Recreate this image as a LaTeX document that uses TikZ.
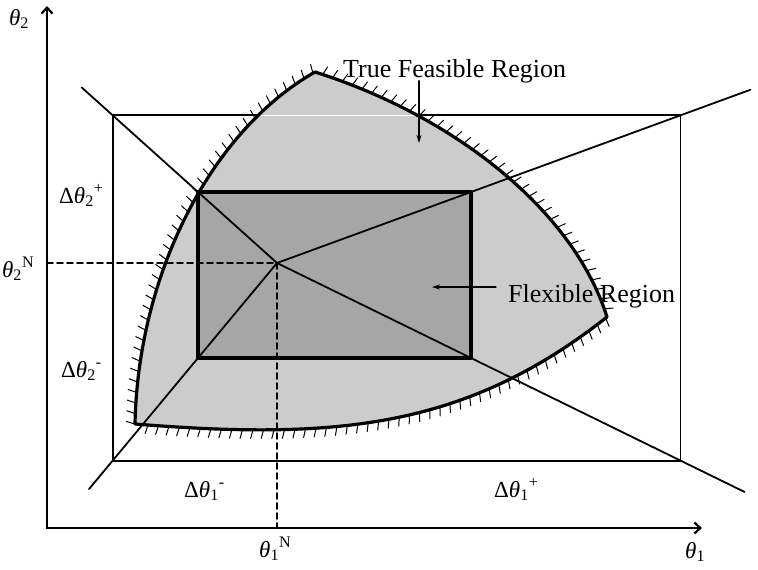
\documentclass[tikz,border=0pt]{standalone}
\usepackage{fontspec}
\setmainfont{Liberation Serif}
\usetikzlibrary{arrows.meta,calc,decorations.pathreplacing}

\newcommand{\thv}{{\itshape θ}}
\newcommand{\lblsize}{\fontsize{23}{27}\selectfont}
\newcommand{\regsize}{\fontsize{26}{30}\selectfont}
\newcommand{\feas}{(135,424) .. controls (138,274) and (211,131) .. (315,72)
  .. controls (457,117) and (574,212) .. (607,317)
  .. controls (465,429) and (335,440) .. cycle}

\tikzset{
  thinline/.style={line width=1.8pt},
  bnd/.style={line width=3.2pt},
  hatch/.style={draw,fill=none,decorate,line width=1pt,
    decoration={border,segment length=10.5pt,amplitude=9pt,angle=75}},
  axis/.style={line width=2.2pt,-{Straight Barb[length=6pt,width=11pt,line width=2.2pt]}},
  pointer/.style={line width=1.3pt,-{Stealth[length=8pt,width=5pt]}},
  nomline/.style={line width=1.7pt,dash pattern=on 6pt off 4pt},
  lbl/.style={font=\lblsize,inner sep=0pt,anchor=base west},
  reg/.style={font=\regsize,inner sep=0pt,anchor=base west},
}

\begin{document}
\begin{tikzpicture}[x=1pt,y=-1pt,line cap=round,line join=round]
    \useasboundingbox (0,0) rectangle (758,570);

    \coordinate (O) at (47,528);
    \coordinate (N) at (277,263);
    \coordinate (a) at (198,192);
    \coordinate (b) at (471,192);
    \coordinate (c) at (471,358);
    \coordinate (d) at (198,358);
    % box scaled about the nominal point
    \coordinate (A) at ($(N)!2.08!(a)$);
    \coordinate (B) at ($(N)!2.08!(b)$);
    \coordinate (C) at ($(N)!2.08!(c)$);
    \coordinate (D) at ($(N)!2.08!(d)$);
    \coordinate (ea) at ($(N)!2.47!(a)$);
    \coordinate (eb) at ($(N)!2.44!(b)$);
    \coordinate (ec) at ($(N)!2.41!(c)$);
    \coordinate (ed) at ($(N)!2.38!(d)$);
    \coordinate (xN) at (O -| N);
    \coordinate (yN) at (O |- N);

    \draw[thinline] (A) -- (B) -- (C) -- (D) -- cycle;
    \fill[black!20] \feas;
    \begin{scope}
        \clip \feas;
        \draw[white,line width=0.7pt] (A) -- (B) -- (C) -- (D) -- cycle;
    \end{scope}
    \fill[black!35] (a) rectangle (c);

    \draw[thinline] (N) -- (ea);
    \draw[thinline] (N) -- (eb);
    \draw[thinline] (N) -- (ec);
    \draw[thinline] (N) -- (ed);
    \draw[nomline] (yN) -- (N) -- (xN);

    \draw[bnd] (a) -- (b) -- (c) -- (d) -- cycle;
    \draw[bnd,postaction={hatch}] \feas;

    \draw[axis] (O) -- (47,6);
    \draw[axis] (O) -- (702,528);

    \begin{scope}[lbl]
        \node (t2) at (9,25) {\thv\textsubscript{2}};
        \node (t1) at (685,558) {\thv\textsubscript{1}};
        \node (t1N) at (259,557) {\thv\textsubscript{1}\textsuperscript{N}};
        \node (t2N) at (2,277) {\thv\textsubscript{2}\textsuperscript{N}};
        \node (d2p) at (59,203) {Δ\thv\textsubscript{2}\textsuperscript{+}};
        \node (d2m) at (61,377) {Δ\thv\textsubscript{2}\textsuperscript{-}};
        \node (d1m) at (184,497) {Δ\thv\textsubscript{1}\textsuperscript{-}};
        \node (d1p) at (494,497) {Δ\thv\textsubscript{1}\textsuperscript{+}};
    \end{scope}

    \node[reg] (tfr) at (343,77) {True Feasible Region};
    \node[reg] (flx) at (508,302) {Flexible Region};
    \coordinate (tfrtip) at (419,143);
    \coordinate (flxtip) at (432,287);
    \draw[pointer] (tfr.south west -| tfrtip) ++(0,-2) -- (tfrtip);
    \draw[pointer] (flx.west |- flxtip) ++(-12,0) -- (flxtip);
\end{tikzpicture}
\end{document}
